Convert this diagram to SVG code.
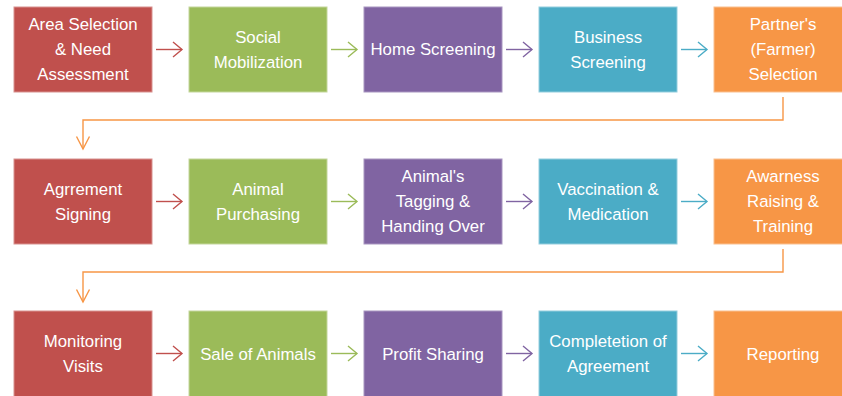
<svg xmlns="http://www.w3.org/2000/svg" width="842" height="396" viewBox="0 0 842 396">
<style>
.t{font-family:"Liberation Sans",Arial,sans-serif;font-size:16.8px;fill:#fff;text-anchor:middle}
.r{fill:#C0504D;stroke:#D8918F;stroke-width:1}
.g{fill:#9BBB59;stroke:#C3D69B;stroke-width:1}
.p{fill:#8064A2;stroke:#A895C0;stroke-width:1}
.b{fill:#4BACC6;stroke:#93CDDD;stroke-width:1}
.o{fill:#F79646;stroke:#FAC08F;stroke-width:1}
.c{fill:none;stroke-width:1.4}
</style>
<defs>
<marker id="mr" markerUnits="userSpaceOnUse" markerWidth="20" markerHeight="20" refX="10" refY="8" orient="auto" viewBox="0 0 20 16"><path d="M1,0.5 L10,8 L1,15.5" fill="none" stroke="#C0504D" stroke-width="1.4"/></marker>
<marker id="mg" markerUnits="userSpaceOnUse" markerWidth="20" markerHeight="20" refX="10" refY="8" orient="auto" viewBox="0 0 20 16"><path d="M1,0.5 L10,8 L1,15.5" fill="none" stroke="#9BBB59" stroke-width="1.4"/></marker>
<marker id="mp" markerUnits="userSpaceOnUse" markerWidth="20" markerHeight="20" refX="10" refY="8" orient="auto" viewBox="0 0 20 16"><path d="M1,0.5 L10,8 L1,15.5" fill="none" stroke="#8064A2" stroke-width="1.4"/></marker>
<marker id="mb" markerUnits="userSpaceOnUse" markerWidth="20" markerHeight="20" refX="10" refY="8" orient="auto" viewBox="0 0 20 16"><path d="M1,0.5 L10,8 L1,15.5" fill="none" stroke="#4BACC6" stroke-width="1.4"/></marker>
<marker id="mo" markerUnits="userSpaceOnUse" markerWidth="20" markerHeight="20" refX="13" refY="7" orient="auto" viewBox="0 0 20 14"><path d="M0.5,0.5 L13,7 L0.5,13.5" fill="none" stroke="#F79646" stroke-width="1.4"/></marker>
</defs>

<g id="connectors">
<path class="c" stroke="#C0504D" d="M156,49.5 H182" marker-end="url(#mr)"/>
<path class="c" stroke="#9BBB59" d="M331,49.5 H357" marker-end="url(#mg)"/>
<path class="c" stroke="#8064A2" d="M506,49.5 H532" marker-end="url(#mp)"/>
<path class="c" stroke="#4BACC6" d="M681,49.5 H707" marker-end="url(#mb)"/>
<path class="c" stroke="#F79646" d="M783,97 V120 H83 V149" marker-end="url(#mo)"/>
<path class="c" stroke="#C0504D" d="M156,201.5 H182" marker-end="url(#mr)"/>
<path class="c" stroke="#9BBB59" d="M331,201.5 H357" marker-end="url(#mg)"/>
<path class="c" stroke="#8064A2" d="M506,201.5 H532" marker-end="url(#mp)"/>
<path class="c" stroke="#4BACC6" d="M681,201.5 H707" marker-end="url(#mb)"/>
<path class="c" stroke="#F79646" d="M783,249 V272 H83 V302" marker-end="url(#mo)"/>
<path class="c" stroke="#C0504D" d="M156,353.5 H182" marker-end="url(#mr)"/>
<path class="c" stroke="#9BBB59" d="M331,353.5 H357" marker-end="url(#mg)"/>
<path class="c" stroke="#8064A2" d="M506,353.5 H532" marker-end="url(#mp)"/>
<path class="c" stroke="#4BACC6" d="M681,353.5 H707" marker-end="url(#mb)"/>
</g>

<g id="n1"><rect class="r" x="14" y="7" width="138" height="85"/><text class="t" x="83" y="30">Area Selection</text><text class="t" x="83" y="55">&amp; Need</text><text class="t" x="83" y="80">Assessment</text></g>
<g id="n2"><rect class="g" x="189" y="7" width="138" height="85"/><text class="t" x="258" y="43">Social</text><text class="t" x="258" y="68">Mobilization</text></g>
<g id="n3"><rect class="p" x="364" y="7" width="138" height="85"/><text class="t" x="433" y="55">Home Screening</text></g>
<g id="n4"><rect class="b" x="539" y="7" width="138" height="85"/><text class="t" x="608" y="43">Business</text><text class="t" x="608" y="68">Screening</text></g>
<g id="n5"><rect class="o" x="714" y="7" width="138" height="85"/><text class="t" x="783" y="30">Partner's</text><text class="t" x="783" y="55">(Farmer)</text><text class="t" x="783" y="80">Selection</text></g>

<g id="n6"><rect class="r" x="14" y="159" width="138" height="85"/><text class="t" x="83" y="195">Agrrement</text><text class="t" x="83" y="220">Signing</text></g>
<g id="n7"><rect class="g" x="189" y="159" width="138" height="85"/><text class="t" x="258" y="195">Animal</text><text class="t" x="258" y="220">Purchasing</text></g>
<g id="n8"><rect class="p" x="364" y="159" width="138" height="85"/><text class="t" x="433" y="182">Animal's</text><text class="t" x="433" y="207">Tagging &amp;</text><text class="t" x="433" y="232">Handing Over</text></g>
<g id="n9"><rect class="b" x="539" y="159" width="138" height="85"/><text class="t" x="608" y="195">Vaccination &amp;</text><text class="t" x="608" y="220">Medication</text></g>
<g id="n10"><rect class="o" x="714" y="159" width="138" height="85"/><text class="t" x="783" y="182">Awarness</text><text class="t" x="783" y="207">Raising &amp;</text><text class="t" x="783" y="232">Training</text></g>

<g id="n11"><rect class="r" x="14" y="311" width="138" height="86"/><text class="t" x="83" y="347">Monitoring</text><text class="t" x="83" y="372">Visits</text></g>
<g id="n12"><rect class="g" x="189" y="311" width="138" height="86"/><text class="t" x="258" y="359.5">Sale of Animals</text></g>
<g id="n13"><rect class="p" x="364" y="311" width="138" height="86"/><text class="t" x="433" y="359.5">Profit Sharing</text></g>
<g id="n14"><rect class="b" x="539" y="311" width="138" height="86"/><text class="t" x="608" y="347">Completetion of</text><text class="t" x="608" y="372">Agreement</text></g>
<g id="n15"><rect class="o" x="714" y="311" width="138" height="86"/><text class="t" x="783" y="359.5">Reporting</text></g>
</svg>
